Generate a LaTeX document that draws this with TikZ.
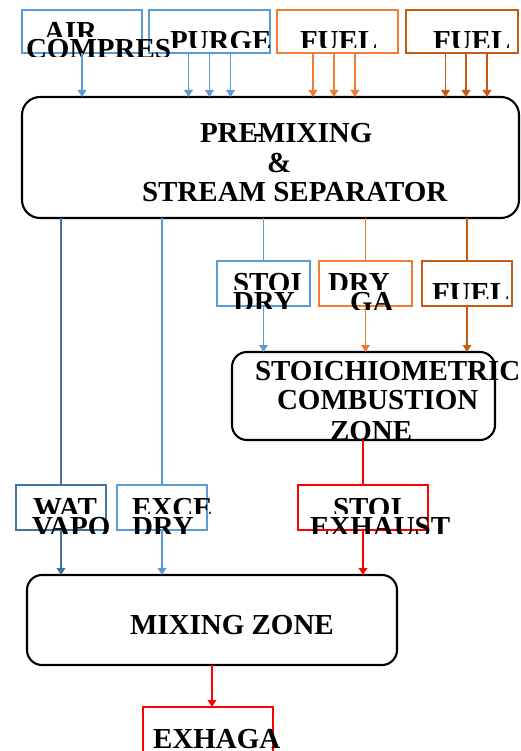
\documentclass[tikz,border=0pt]{standalone}
\usepackage{fontspec}
\setmainfont{Liberation Serif}
\usetikzlibrary{arrows.meta}
\definecolor{cblue}{HTML}{5B9BD5}
\definecolor{cdblue}{HTML}{41719C}
\definecolor{corange}{HTML}{ED7D31}
\definecolor{cdorange}{HTML}{C55A11}
\definecolor{cred}{HTML}{FF0000}
% name, left x, baseline y, clip y, text
\newcommand\cliptext[5]{%
  \begin{scope}
    \clip (#2-60,#3-45) rectangle (#2+320,#4);
    \node[txt, anchor=base west] (#1) at (#2,#3) {#5};
  \end{scope}}
\begin{document}
\begin{tikzpicture}[x=1pt,y=-1pt,
  txt/.style={inner sep=0pt, outer sep=0pt, text=black,
    font=\bfseries\fontsize{29}{29}\selectfont},
  box/.style={draw, line width=1.9pt, inner sep=0pt, outer sep=0pt},
  zone/.style={draw=black, line width=2.1pt, inner sep=0pt, outer sep=0pt, rounded corners=15pt},
  conn/.style={line width=1.9pt},
  arr/.style={conn, -{Triangle[width=8.5pt,length=7pt]}}]
\path[use as bounding box] (0,0) rectangle (520,751);
\clip (0,0) rectangle (520,751);

% top row boxes
\node[box, draw=cblue, minimum width=120pt, minimum height=43pt] (air) at (82,31.5) {};
\node[box, draw=cblue, minimum width=121pt, minimum height=43pt] (purge) at (209.5,31.5) {};
\node[box, draw=corange, minimum width=121pt, minimum height=43pt] (fuelA) at (337.5,31.5) {};
\node[box, draw=cdorange, minimum width=112pt, minimum height=43pt] (fuelB) at (462,31.5) {};

% premixing box
\node[zone, rounded corners=18pt, minimum width=497pt, minimum height=121pt] (premix) at (270.5,157.5) {};

% middle row boxes
\node[box, draw=cblue, minimum width=93pt, minimum height=45pt] (sdry) at (263.5,283.5) {};
\node[box, draw=corange, minimum width=93pt, minimum height=45pt] (dga) at (365.5,283.5) {};
\node[box, draw=cdorange, minimum width=90pt, minimum height=45pt] (fuelC) at (467,283.5) {};

% stoichiometric combustion zone
\node[zone, minimum width=263pt, minimum height=88pt] (stoich) at (363.5,396) {};

% bottom row boxes
\node[box, draw=cdblue, minimum width=90pt, minimum height=45pt] (wat) at (61,507.5) {};
\node[box, draw=cblue, minimum width=90pt, minimum height=45pt] (exce) at (162,507.5) {};
\node[box, draw=cred, minimum width=130pt, minimum height=45pt] (sexh) at (363,507.5) {};

% mixing zone
\node[zone, minimum width=370pt, minimum height=90pt] (mix) at (212,620) {};

% exhaust gas box
\node[box, draw=cred, minimum width=130pt, minimum height=60pt] (exh) at (208,737) {};

% texts
\cliptext{tair}{44}{42}{37}{AIR}
\cliptext{tcomp}{26}{59}{57}{COMPRES}
\cliptext{tpurge}{170}{51}{48}{PURGE}
\cliptext{tfuelA}{300}{51}{48}{FUEL}
\cliptext{tfuelB}{433}{51}{48}{FUEL}

\node[txt, anchor=base west] (tpre) at (200,142.5) {PRE\makebox[0pt]{-}MIXING};
\node[txt, anchor=base west] (tamp) at (267,173) {\&};
\node[txt, anchor=base west] (tsep) at (142,201.5) {STREAM SEPARATOR};

\cliptext{tstoiA}{233}{292}{289}{STOI}
\cliptext{tdryA}{233}{311}{308}{DRY}
\cliptext{tdryB}{328}{292}{289}{DRY}
\cliptext{tga}{350}{311}{309}{GA}
\cliptext{tfuelC}{432}{302}{298}{FUEL}

\node[txt, anchor=base west] (tsto) at (255,380) {STOICHIOMETRIC};
\node[txt, anchor=base west] (tcomb) at (277,409) {COMBUSTION};
\cliptext{tzone}{330}{440}{441}{ZONE}

\cliptext{twat}{33}{517}{513}{WAT}
\cliptext{tvapo}{32}{536}{533}{VAPO}
\cliptext{texce}{132}{517}{513}{EXCE}
\cliptext{tdryC}{132}{536}{533}{DRY}
\cliptext{tstoiB}{333}{517}{513}{STOI}
\cliptext{texh}{310}{536}{533}{EXHAUST}

\node[txt, anchor=base west] (tmix) at (130,634) {MIXING ZONE};
\node[txt, anchor=base west] (texg) at (153,748) {EXHAGA};

% connectors: top row into premixing
\draw[arr, cblue] (air.south) -- (air.south |- premix.north);
\foreach \dx in {-21,0,21}
  \draw[arr, cblue] ([xshift=\dx pt]purge.south) -- ([xshift=\dx pt]purge.south |- premix.north);
\foreach \dx in {-24.5,-3.5,17.5}
  \draw[arr, corange] ([xshift=\dx pt]fuelA.south) -- ([xshift=\dx pt]fuelA.south |- premix.north);
\foreach \dx in {-16.5,4,25}
  \draw[arr, cdorange] ([xshift=\dx pt]fuelB.south) -- ([xshift=\dx pt]fuelB.south |- premix.north);

% premixing to separated streams
\draw[conn, cdblue] (wat.north |- premix.south) -- (wat.north);
\draw[conn, cblue] (exce.north |- premix.south) -- (exce.north);
\draw[conn, cblue] (sdry.north |- premix.south) -- (sdry.north);
\draw[conn, corange] (dga.north |- premix.south) -- (dga.north);
\draw[conn, cdorange] (fuelC.north |- premix.south) -- (fuelC.north);

% into stoichiometric zone
\draw[arr, cblue] (sdry.south) -- (sdry.south |- stoich.north);
\draw[arr, corange] (dga.south) -- (dga.south |- stoich.north);
\draw[arr, cdorange] (fuelC.south) -- (fuelC.south |- stoich.north);

% stoich to exhaust
\draw[conn, cred] (sexh.north |- stoich.south) -- (sexh.north);

% into mixing zone
\draw[arr, cdblue] (wat.south) -- (wat.south |- mix.north);
\draw[arr, cblue] (exce.south) -- (exce.south |- mix.north);
\draw[arr, cred] (sexh.south) -- (sexh.south |- mix.north);

% mixing to exhaust gas
\draw[arr, cred] (mix.south) -- (mix.south |- exh.north);
\end{tikzpicture}
\end{document}
